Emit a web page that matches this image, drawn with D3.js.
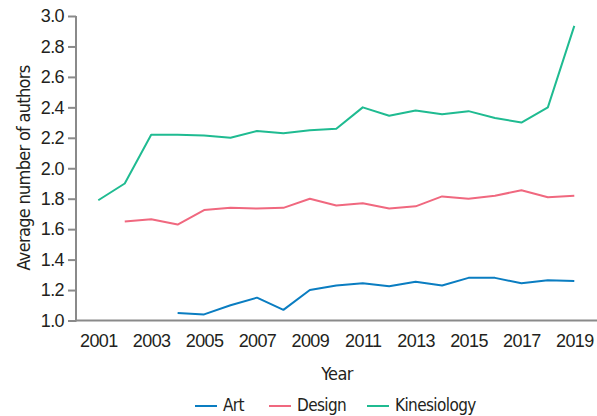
<!DOCTYPE html>
<html>
<head>
<meta charset="utf-8">
<script src="https://cdn.jsdelivr.net/npm/d3@7"></script>
<style>
	body { margin: 0; background: #fff; }
	svg { display: block; font-family: "Liberation Sans Narrow", "DejaVu Sans Condensed", "Roboto", sans-serif; }
	.axis path, .axis line { stroke: #8a8a8a; stroke-width: 2; }
	.axis text { fill: #231f20; font-size: 18px; letter-spacing: -0.6px; }
</style>
</head>
<body>
<svg></svg>
<script>
let years = d3.range(2001, 2020);
let xTicks = [2001, 2003, 2005, 2007, 2009, 2011, 2013, 2015, 2017, 2019];
let yTicks = [1.0, 1.2, 1.4, 1.6, 1.8, 2.0, 2.2, 2.4, 2.6, 2.8, 3.0];

// null = no value for that year
let art = [null, null, null, 1.05, 1.04, 1.10, 1.15, 1.07, 1.20, 1.23, 1.245, 1.225, 1.255, 1.23, 1.28, 1.28, 1.245, 1.265, 1.26];
let design = [null, 1.65, 1.665, 1.63, 1.725, 1.74, 1.735, 1.74, 1.80, 1.755, 1.77, 1.735, 1.75, 1.815, 1.80, 1.82, 1.855, 1.81, 1.82];
let kinesiology = [1.79, 1.90, 2.22, 2.22, 2.215, 2.20, 2.245, 2.23, 2.25, 2.26, 2.40, 2.345, 2.38, 2.355, 2.375, 2.33, 2.30, 2.40, 2.935];

let seriesNames = ['Art', 'Design', 'Kinesiology'];
let seriesColors = ['#0a7dc1', '#f0687f', '#1fbb91'];
let seriesData = [art, design, kinesiology];

let width = 597;
let height = 416;
let margin = { top: 16, right: 0, bottom: 96, left: 76 };

let svg = d3.select('svg')
	.attr('width', width)
	.attr('height', height);

let x = d3.scaleLinear()
	.domain([2001, 2019])
	.range([98.3, 574.3]);

let y = d3.scaleLinear()
	.domain([1.0, 3.0])
	.range([height - margin.bottom + 0.5, margin.top]);

// x axis: plain line, no tick marks
let xAxis = svg.append('g')
	.attr('class', 'axis')
	.attr('transform', `translate(0,${y(1.0)})`)
	.call(d3.axisBottom(x).tickValues(xTicks).tickFormat(d3.format('d')).tickSize(0).tickPadding(14));
xAxis.select('.domain').attr('d', `M${margin.left},0H${width}`);

let yAxis = svg.append('g')
	.attr('class', 'axis')
	.attr('transform', `translate(${margin.left},0)`)
	.call(d3.axisLeft(y).tickValues(yTicks).tickFormat(d3.format('.1f')).tickSize(8).tickSizeOuter(0).tickPadding(4));
yAxis.select('.domain').attr('d', `M0,${y(3.0)}V${y(1.0) + 1}`);

let line = d3.line()
	.defined(d => d[1] != null)
	.x(d => x(d[0]))
	.y(d => y(d[1]));

seriesData.forEach((values, i) => {
	svg.append('path')
		.datum(years.map((yr, j) => [yr, values[j]]))
		.attr('fill', 'none')
		.attr('stroke', seriesColors[i])
		.attr('stroke-width', 2)
		.attr('stroke-linejoin', 'round')
		.attr('d', line);
});

// axis titles
svg.append('text')
	.attr('x', 337)
	.attr('y', 380)
	.attr('text-anchor', 'middle')
	.attr('font-size', 18)
	.attr('letter-spacing', '-0.6px')
	.attr('fill', '#231f20')
	.text('Year');

svg.append('text')
	.attr('transform', 'translate(30,168) rotate(-90)')
	.attr('text-anchor', 'middle')
	.attr('font-size', 18)
	.attr('letter-spacing', '-0.7px')
	.attr('fill', '#231f20')
	.text('Average number of authors');

// legend
let legendX = [195, 269, 367];
let legend = svg.append('g');
seriesNames.forEach((name, i) => {
	legend.append('line')
		.attr('x1', legendX[i]).attr('x2', legendX[i] + 22)
		.attr('y1', 406).attr('y2', 406)
		.attr('stroke', seriesColors[i])
		.attr('stroke-width', 2);
	legend.append('text')
		.attr('x', legendX[i] + 28)
		.attr('y', 411)
		.attr('font-size', 17)
		.attr('letter-spacing', '-0.6px')
		.attr('fill', '#231f20')
		.text(name);
});
</script>
</body>
</html>
